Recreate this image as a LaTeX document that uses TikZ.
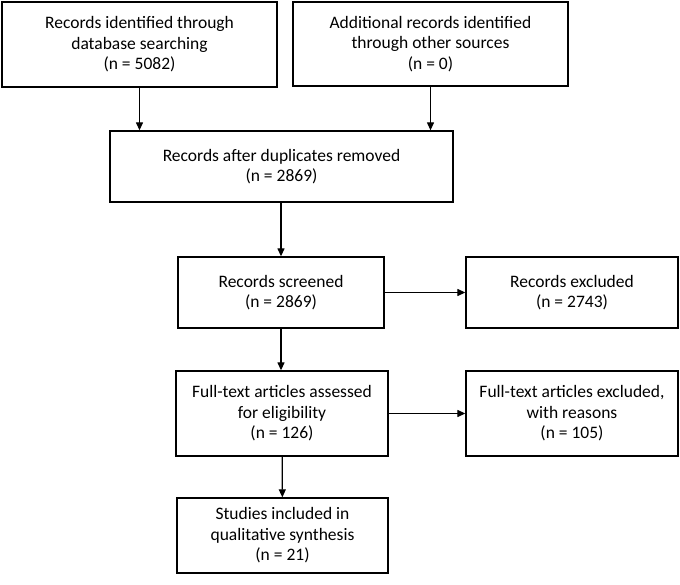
\documentclass[tikz,border=0pt]{standalone}
\usepackage{fontspec}
\setmainfont{Carlito}
\usetikzlibrary{arrows.meta}
\tikzset{
  box/.style={draw, line width=1.3pt, align=center, inner sep=0pt,
    font=\fontsize{17.5}{20.5}\selectfont},
  flow/.style={-{Triangle[length=8pt,width=7pt]}, line width=1.2pt}
}
\begin{document}
\begin{tikzpicture}[x=1pt, y=-1pt]
    \useasboundingbox (0,0) rectangle (680,585);
    \node[box, minimum width=275pt, minimum height=85pt] (A) at (139.5,44.5) {Records identified through\\database searching\\(n = 5082)};
    \node[box, minimum width=275pt, minimum height=84pt] (B) at (430.5,44) {Additional records identified\\through other sources\\(n = 0)};
    \node[box, minimum width=343pt, minimum height=71pt] (C) at (281.5,166.5) {Records after duplicates removed\\(n = 2869)};
    \draw[flow] (A) -- (A |- C.north);
    \draw[flow] (B) -- (B |- C.north);
    \node[box, minimum width=206pt, minimum height=71pt] (D) at (281,292.5) {Records screened\\(n = 2869)};
    \draw[flow] (D |- C.south) -- (D);
    \node[box, minimum width=212pt, minimum height=71pt] (E) at (572,292.5) {Records excluded\\(n = 2743)};
    \draw[flow] (D) -- (E);
    \node[box, minimum width=212pt, minimum height=85pt] (F) at (282,413.5) {Full-text articles assessed\\for eligibility\\(n = 126)};
    \draw[flow] (D) -- (D |- F.north);
    \node[box, minimum width=212pt, minimum height=85pt] (G) at (572,413.5) {Full-text articles excluded,\\with reasons\\(n = 105)};
    \draw[flow] (F) -- (G);
    \node[box, minimum width=211pt, minimum height=75pt] (H) at (282.5,535.5) {Studies included in\\qualitative synthesis\\(n = 21)};
    \draw[flow] (F) -- (H);
\end{tikzpicture}
\end{document}
